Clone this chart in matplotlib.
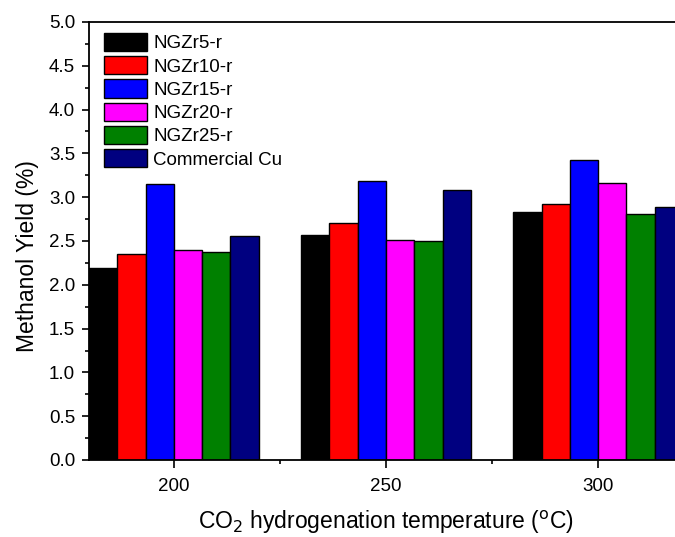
import numpy as np
import matplotlib
matplotlib.use("Agg")
import matplotlib.pyplot as plt
from matplotlib.ticker import MultipleLocator, FormatStrFormatter

plt.rcParams['font.family'] = ['Liberation Sans', 'DejaVu Sans']

temperatures = [200, 250, 300]
series_names = ["NGZr5-r", "NGZr10-r", "NGZr15-r", "NGZr20-r", "NGZr25-r", "Commercial Cu"]
series_colors = ["#000000", "#FF0000", "#0000FF", "#FF00FF", "#008000", "#000080"]
yields = [
    [2.19, 2.57, 2.83],   # NGZr5-r
    [2.355, 2.71, 2.925], # NGZr10-r
    [3.155, 3.18, 3.42],  # NGZr15-r
    [2.40, 2.515, 3.16],  # NGZr20-r
    [2.375, 2.495, 2.81], # NGZr25-r
    [2.555, 3.085, 2.89], # Commercial Cu
]

fig = plt.figure(figsize=(6.75, 5.37), dpi=100)
ax = fig.add_axes([89 / 675, 1 - 460 / 537, 594 / 675, 438 / 537])

n = len(series_names)
width = 40 / n
x = np.array(temperatures, dtype=float)
for i, (name, color, vals) in enumerate(zip(series_names, series_colors, yields)):
    offset = (i - (n - 1) / 2) * width
    ax.bar(x + offset, vals, width=width, color=color, edgecolor="black",
           linewidth=1.0, label=name)

ax.set_xlim(180, 320)
ax.set_ylim(0, 5.0)
ax.set_xticks(temperatures)
ax.xaxis.set_minor_locator(MultipleLocator(25))
ax.yaxis.set_major_locator(MultipleLocator(0.5))
ax.yaxis.set_minor_locator(MultipleLocator(0.25))
ax.yaxis.set_major_formatter(FormatStrFormatter('%.1f'))

ax.tick_params(which='major', direction='out', length=5, width=1.2, labelsize=13.5)
ax.tick_params(which='minor', direction='out', length=2.8, width=1.2)
ax.tick_params(axis='y', which='major', pad=5)
ax.tick_params(axis='x', which='major', length=5.8, pad=7)
for s in ax.spines.values():
    s.set_linewidth(1.3)

ax.set_ylabel("Methanol Yield (%)", fontsize=16.5)
ax.yaxis.set_label_coords(-0.084, 0.466)
ax.set_xlabel("CO$_2$ hydrogenation temperature ($^{\\rm o}$C)", fontsize=16.5, labelpad=10)

ax.legend(loc='upper left', bbox_to_anchor=(104 / 675, 1 - 33 / 537),
          bbox_transform=fig.transFigure, frameon=False, fontsize=13.5,
          borderpad=0, borderaxespad=0, handlelength=2.3, handleheight=1.12,
          labelspacing=0.2, handletextpad=0.32)

fig.savefig("out.png", dpi=100)
